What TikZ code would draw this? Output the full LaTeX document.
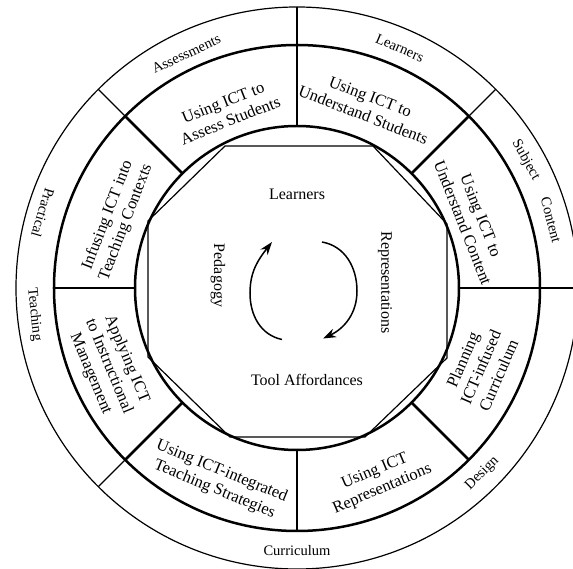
\documentclass[tikz,border=0pt]{standalone}
\usepackage{fontspec}
\setmainfont{Liberation Serif}
\usetikzlibrary{arrows.meta}
\begin{document}
\begin{tikzpicture}[x=1pt,y=1pt,
  thinline/.style={line width=1.2pt},
  thickline/.style={line width=2.5pt},
  sectortext/.style={align=center, font=\fontsize{16.5}{19.5}\selectfont, inner sep=0pt},
  ringtext/.style={font=\fontsize{14.5}{16}\selectfont, inner sep=0pt},
  centertext/.style={font=\fontsize{16}{18}\selectfont, inner sep=0pt},
  cyclearrow/.style={line width=1.5pt, -{Stealth[length=13pt,width=9pt]}}
]
\useasboundingbox (-297,-281) rectangle (276,288);
\clip (-297,-281) rectangle (276,288);

% rings
\draw[thinline] (0,0) circle[radius=281];
\draw[thickline] (0,0) circle[radius=243];
\draw[thickline] (0,0) circle[radius=162];

% octagon
\draw[thinline] (-72,142) -- (76,142) -- (150,64) -- (150,-70) -- (68,-149)
  -- (-67,-149) -- (-149,-69) -- (-149,67) -- cycle;

% dividers
\foreach \a in {0,45,...,315} \draw[thickline] (\a:162) -- (\a:243);
\foreach \a in {0,45,90,135,225} \draw[thinline] (\a:243) -- (\a:281);

% sector texts
\node[sectortext, rotate=21.7] (s1) at (111.7:190) {Using ICT to\\Assess Students};
\node[sectortext, rotate=-21] (s2) at (69:195) {Using ICT to\\Understand Students};
\node[sectortext, rotate=-68.5] (s3) at (21.5:188) {Using ICT to\\Understand Content};
\node[sectortext, rotate=66.6] (s4) at (-23.4:200) {Planning\\ICT-infused\\Curriculum};
\node[sectortext, rotate=23] (s5) at (-67:209) {Using ICT\\Representations};
\node[sectortext, rotate=-22.3] (s6) at (247.7:208) {Using ICT-integrated\\Teaching Strategies};
\node[sectortext, rotate=-67.4] (s7) at (202.6:204) {Applying ICT\\to Instructional\\Management};
\node[sectortext, rotate=69] (s8) at (159:193) {Infusing ICT into\\Teaching Contexts};

% outer ring labels
\node[ringtext, rotate=25.3] (o1) at (115.3:259) {Assessments};
\node[ringtext, rotate=-23.2] (o2) at (66.8:261) {Learners};
\node[ringtext, rotate=-60.8] (o3) at (29.2:262) {Subject};
\node[ringtext, rotate=-75] (o4) at (15:263) {Content};
\node[ringtext, rotate=-106.5] (o5) at (163.5:265) {Practical};
\node[ringtext, rotate=-84.2] (o6) at (185.8:264) {Teaching};
\node[ringtext] (o7) at (270:263) {Curriculum};
\node[ringtext, rotate=45] (o8) at (315:262) {Design};

% centre labels
\node[centertext] (c1) at (0,93.5) {Learners};
\node[centertext] (c2) at (10,-91.5) {Tool Affordances};
\node[centertext, rotate=-90] (c3) at (-79,12.5) {Pedagogy};
\node[centertext, rotate=-90] (c4) at (88,5.5) {Representations};

% cycle arrows
\coordinate (la) at (-15,-51.5);
\coordinate (lm) at (-47,-5);
\coordinate (lb) at (-25,46);
\coordinate (ra) at (25,46);
\coordinate (rm) at (60,-3);
\coordinate (rb) at (26,-50.5);
\draw[cyclearrow] (la) to[out=168,in=-90] (lm) to[out=90,in=-128] (lb);
\draw[cyclearrow] (ra) to[out=-10,in=90] (rm) to[out=-90,in=25] (rb);
\end{tikzpicture}
\end{document}
